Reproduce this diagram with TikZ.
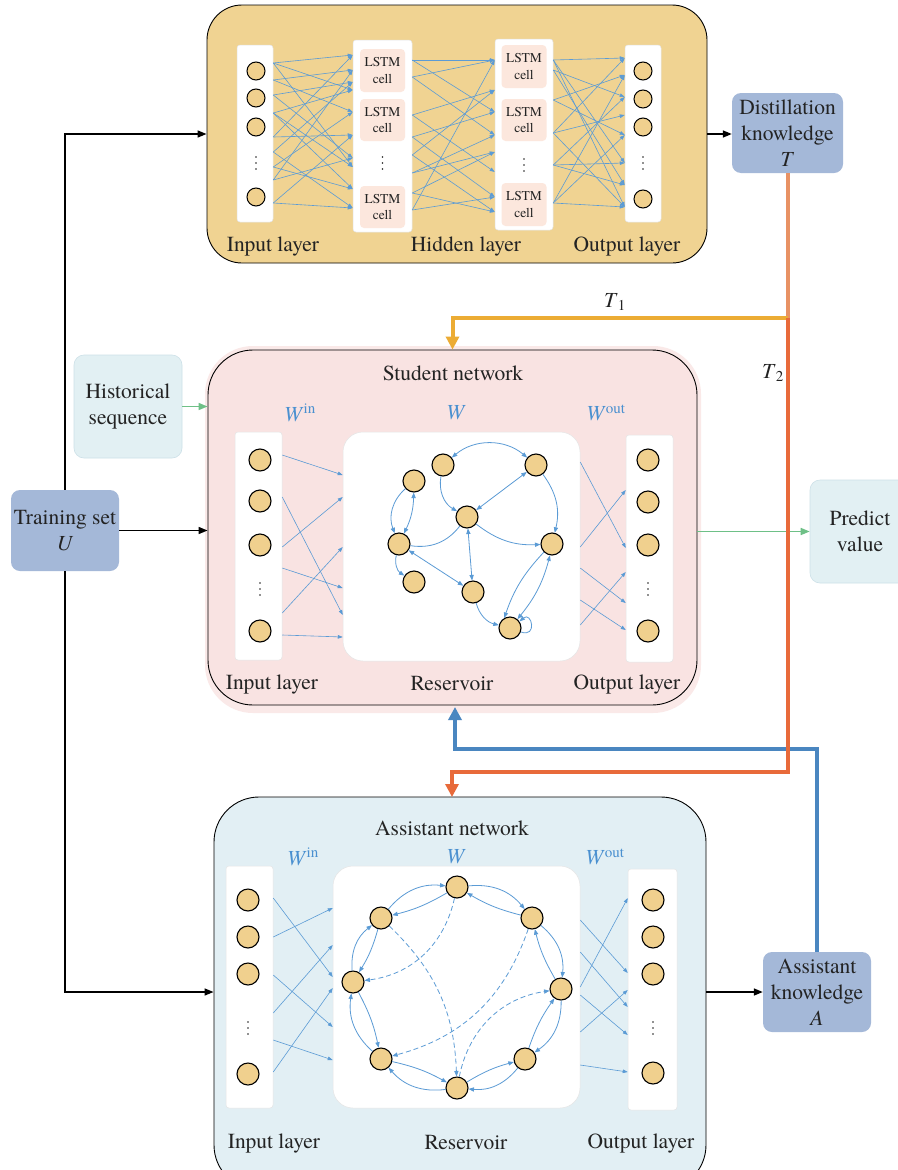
\documentclass[tikz,border=0pt]{standalone}
\usepackage{fontspec}
\setmainfont{texgyretermes}[Extension=.otf, UprightFont=*-regular, ItalicFont=*-italic, BoldFont=*-bold, BoldItalicFont=*-bolditalic]
\usetikzlibrary{arrows.meta,calc}
\definecolor{tanbg}{RGB}{240,211,146}
\definecolor{nodefill}{RGB}{240,208,142}
\definecolor{pinkbg}{RGB}{249,227,226}
\definecolor{bluebg}{RGB}{226,239,244}
\definecolor{cellfill}{RGB}{252,231,221}
\definecolor{kbox}{RGB}{164,184,216}
\definecolor{lbox}{RGB}{226,240,243}
\definecolor{lboxd}{RGB}{205,225,232}
\definecolor{arrblue}{RGB}{91,155,213}
\definecolor{wblue}{RGB}{74,144,208}
\definecolor{greenarr}{RGB}{110,192,135}
\definecolor{org1}{RGB}{232,146,100}
\definecolor{org2}{RGB}{236,172,52}
\definecolor{org3}{RGB}{232,106,58}
\definecolor{kblue}{RGB}{74,134,192}
\definecolor{txt}{RGB}{35,35,35}
\begin{document}
\begin{tikzpicture}[x=1pt,y=1pt, font=\fontsize{21.5}{26}\selectfont, text=txt,
 panel/.style={draw=black, line width=0.9pt, rounded corners=#1, inner sep=0},
 col/.style={fill=white, draw=gray!20, line width=0.5pt, rounded corners=3pt, inner sep=0},
 cellbox/.style={fill=cellfill, rounded corners=4pt, minimum width=45pt, inner sep=0, font=\fontsize{13.5}{16.5}\selectfont, align=center},
 tn/.style={circle, draw=black, line width=1pt, fill=nodefill, minimum size=18pt, inner sep=0},
 rn/.style={circle, draw=black, line width=1.1pt, fill=nodefill, minimum size=22pt, inner sep=0},
 kb/.style={fill=kbox, rounded corners=9pt, align=center, inner sep=0},
 lb/.style={fill=lbox, draw=lboxd, line width=0.6pt, rounded corners=10pt, align=center, inner sep=0},
 wlab/.style={text=wblue, inner sep=0},
 sarr/.style={draw=arrblue, line width=0.6pt, -{Triangle[length=5pt,width=3.6pt]}},
 rarr/.style={draw=arrblue, line width=0.8pt, -{Triangle[length=5.5pt,width=4.2pt]}},
 dsarr/.style={draw=arrblue, line width=0.8pt, {Triangle[length=5.5pt,width=4.2pt]}-{Triangle[length=5.5pt,width=4.2pt]}},
 dash arr/.style={draw=arrblue, line width=0.8pt, dash pattern=on 5pt off 3pt, -{Triangle[length=5.5pt,width=4.2pt]}},
 plainb/.style={draw=arrblue, line width=0.8pt},
 blk/.style={draw=black, line width=1.5pt, -{Triangle[length=9pt,width=7pt]}},
 grn/.style={draw=greenarr, line width=1.6pt, -{Triangle[length=9pt,width=7pt]}},
 thick arr/.style={line width=4pt, -{Triangle[length=13pt,width=13pt]}}]
\newcommand{\vdotsat}[1]{\foreach \dy in {-6,0,6} \fill[txt] ($(#1)+(0,\dy)$) circle (0.9pt);}
\useasboundingbox (0,0) rectangle (897,-1170);
\fill[white] (0,0) rectangle (897,-1170);

% ---------------- top panel (teacher LSTM)
\node[panel=35pt, fill=tanbg, minimum width=500pt, minimum height=258pt] (top) at (457,-134) {};
\node[col, minimum width=36pt, minimum height=177pt] (tin) at (255,-133.5) {};
\node[col, minimum width=59pt, minimum height=192pt] (th1) at (382.5,-136) {};
\node[col, minimum width=58pt, minimum height=191pt] (th2) at (524,-134.5) {};
\node[col, minimum width=36pt, minimum height=177pt] (tout) at (643,-133.5) {};
\foreach \y [count=\i] in {71,98,127,197} \node[tn] (ti\i) at (256,-\y) {};
\foreach \y [count=\i] in {71,99,127,199} \node[tn] (to\i) at (643,-\y) {};
\coordinate (tid) at (256,-163); \vdotsat{tid}
\coordinate (tod) at (643,-163); \vdotsat{tod}
\node[cellbox, minimum height=43pt] (c11) at (382.5,-70.5) {LSTM\\cell};
\node[cellbox, minimum height=42pt] (c12) at (382.5,-120) {LSTM\\cell};
\node[cellbox, minimum height=42pt] (c13) at (382.5,-207) {LSTM\\cell};
\node[cellbox, minimum height=43pt] (c21) at (524,-66.5) {LSTM\\cell};
\node[cellbox, minimum height=42pt] (c22) at (524,-120) {LSTM\\cell};
\node[cellbox, minimum height=43pt] (c23) at (524,-204.5) {LSTM\\cell};
\coordinate (c1d) at (382.5,-163); \vdotsat{c1d}
\coordinate (c2d) at (524,-165); \vdotsat{c2d}
\foreach \a/\b in {63/55, 63/90, 63/167, 80/70, 80/112, 95/82, 95/158, 113/90, 113/189, 137/55, 137/135, 152/82, 152/208, 167/112, 167/189, 180/158, 180/70, 203/135, 203/208, 113/167}
  \draw[sarr] (tin.east |- 0,-\a) -- (th1.west |- 0,-\b);
\foreach \a/\b in {60/60, 60/112, 77/60, 77/135, 115/90, 115/172, 137/112, 137/197, 155/90, 155/212, 173/135, 173/152, 193/152, 193/212, 210/197, 210/60}
  \draw[sarr] (th1.east |- 0,-\a) -- (th2.west |- 0,-\b);
\foreach \a/\b in {60/58, 60/163, 60/207, 70/97, 70/185, 100/75, 100/135, 133/58, 133/115, 133/207, 165/97, 165/163, 165/185, 203/75, 203/135, 203/207}
  \draw[sarr] (th2.east |- 0,-\a) -- (tout.west |- 0,-\b);
\node (tl1) at (273,-246) {Input layer};
\node (tl2) at (466,-246) {Hidden layer};
\node (tl3) at (627,-246) {Output layer};

% ---------------- side boxes
\node[kb, minimum width=111pt, minimum height=80pt] (dk) at (787.5,-133) {Distillation\\knowledge\\\textit{T}};
\node[kb, minimum width=108pt, minimum height=81pt] (ts) at (65,-530.5) {Training set\\\textit{U}};
\node[lb, minimum width=108pt, minimum height=103pt] (hist) at (128,-406.5) {Historical\\sequence};
\node[lb, minimum width=100pt, minimum height=103pt] (pv) at (860,-531.5) {Predict\\value};
\node[kb, minimum width=108pt, minimum height=80pt] (ak) at (817,-992) {Assistant\\knowledge\\\textit{A}};

% ---------------- student panel
\fill[pinkbg!80] (205,-346) [rounded corners=48pt] rectangle (701,-713);
\node[panel=45pt, fill=pinkbg, minimum width=489pt, minimum height=355pt] (stu) at (452.5,-527.5) {};
\node (stt) at (453,-373) {Student network};
\node[wlab] (sw1) at (300,-413) {\textit{W}\textsuperscript{in}};
\node[wlab] (sw2) at (456,-413) {\textit{W}};
\node[wlab] (sw3) at (606,-413) {\textit{W}\textsuperscript{out}};
\node[col, minimum width=47pt, minimum height=228pt] (sin) at (258.5,-546) {};
\node[col, rounded corners=20pt, minimum width=237pt, minimum height=229pt] (sres) at (461.5,-546.5) {};
\node[col, minimum width=47pt, minimum height=227pt] (sout) at (649.5,-548.5) {};
\foreach \y [count=\i] in {460,501,545,631} \node[rn] (si\i) at (260,-\y) {};
\foreach \y [count=\i] in {460,502,545,631} \node[rn] (so\i) at (648,-\y) {};
\coordinate (sid) at (260,-589); \vdotsat{sid}
\coordinate (sod) at (648,-589); \vdotsat{sod}
\node (sl1) at (272,-684) {Input layer};
\node (sl2) at (452,-684) {Reservoir};
\node (sl3) at (627,-684) {Output layer};
\foreach \a/\b in {455/475, 497/615, 547/497, 568/588, 613/547, 635/637}
  \draw[sarr] (sin.east |- 0,-\a) -- (sres.west |- 0,-\b);
\foreach \a/\b in {462/548, 547/490, 568/603, 600/630, 625/572}
  \draw[sarr] (sres.east |- 0,-\a) -- (sout.west |- 0,-\b);
% reservoir
\node[rn] (sA) at (443,-465) {};
\node[rn] (sB) at (536,-465) {};
\node[rn] (sC) at (414,-481) {};
\node[rn] (sD) at (467,-517) {};
\node[rn] (sE) at (399,-544) {};
\node[rn] (sF) at (552,-544) {};
\node[rn] (sG) at (414,-582) {};
\node[rn] (sH) at (473,-592) {};
\node[rn] (sI) at (510,-628) {};
\draw[dsarr] (sA) to[bend left=40] (sB);
\draw[rarr] (sA) to[bend right=35] (sD);
\draw[dsarr] (sB) -- (sD);
\draw[rarr] (sB) to[bend left=25] (sF);
\draw[rarr] (sC) to[bend right=35] (sE);
\draw[dsarr] (sC) to[bend left=12] (sE);
\draw[plainb] (sE) to[bend right=30] (sD);
\draw[rarr] (sD) to[bend right=20] (sF);
\draw[dsarr] (sD) -- (sH);
\draw[dsarr] (sE) -- (sH);
\draw[rarr] (sE) to[bend right=35] (sG);
\draw[rarr] (sH) to[bend right=30] (sI);
\draw[rarr] (sF.225) to[bend right=12] (sI.120);
\draw[dsarr] (sI.50) to[bend right=12] (sF.260);
\draw[rarr] (sI.-20) .. controls +(-20:18) and +(40:16) .. (sI.35);

% ---------------- assistant panel
\node[panel=45pt, fill=bluebg, minimum width=492pt, minimum height=393pt] (asst) at (460,-993.5) {};
\node (att) at (452,-828) {Assistant network};
\node[wlab] (aw1) at (303,-857) {\textit{W}\textsuperscript{in}};
\node[wlab] (aw2) at (456,-857) {\textit{W}};
\node[wlab] (aw3) at (605,-857) {\textit{W}\textsuperscript{out}};
\node[col, minimum width=47pt, minimum height=242pt] (ain) at (249.5,-987) {};
\node[col, rounded corners=20pt, minimum width=247pt, minimum height=242pt] (ares) at (456.5,-987) {};
\node[col, minimum width=49pt, minimum height=241pt] (aout) at (652.5,-989.5) {};
\foreach \y [count=\i] in {900,937,974,1074} \node[rn] (ai\i) at (248,-\y) {};
\foreach \y [count=\i] in {900,937,974,1073} \node[rn] (ao\i) at (653,-\y) {};
\coordinate (aid) at (248,-1028); \vdotsat{aid}
\coordinate (aod) at (653,-1028); \vdotsat{aod}
\node (al1) at (274,-1143) {Input layer};
\node (al2) at (466,-1143) {Reservoir};
\node (al3) at (641,-1143) {Output layer};
\foreach \a/\b in {898/977, 937/908, 975/1027, 1013/945, 1040/1060, 1072/988}
  \draw[sarr] (ain.east |- 0,-\a) -- (ares.west |- 0,-\b);
\foreach \a/\b in {920/973, 952/1007, 987/898, 995/1035, 1032/990, 1065/1072}
  \draw[sarr] (ares.east |- 0,-\a) -- (aout.west |- 0,-\b);
\node[rn] (a1) at (457,-887) {};
\node[rn] (a2) at (381,-918) {};
\node[rn] (a3) at (532,-918) {};
\node[rn] (a4) at (353,-982) {};
\node[rn] (a5) at (561,-989) {};
\node[rn] (a6) at (381,-1059) {};
\node[rn] (a7) at (525,-1059) {};
\node[rn] (a8) at (457,-1088) {};
\foreach \p/\q in {a2/a1, a1/a3, a3/a5, a5/a7, a7/a8, a8/a6, a6/a4, a4/a2} {
  \draw[rarr] (\p) to[bend left=28] (\q);
  \draw[rarr] (\q) to[bend left=8] (\p);
}
\draw[dash arr] (a1) to[bend left=35] (a4);
\draw[dash arr] (a2) to[bend left=22] (a8);
\draw[dash arr] (a3) to[bend left=28] (a6);
\draw[dash arr] (a8) to[bend left=35] (a5);

% ---------------- connectors
\draw[blk] (ts.north) |- (top.west);
\draw[blk] (ts.east) -- (ts.east -| stu.west);
\draw[blk] (ts.south) |- (asst.west |- ak.west);
\draw[grn] (hist.east) -- (hist.east -| stu.west);
\draw[blk] (top.east) -- (top.east -| dk.west);
\draw[grn] (stu.east |- pv.west) -- (pv.west);
\draw[blk] (asst.east |- ak.west) -- (ak.west);
\coordinate (j) at (dk.south |- 0,-318);
\coordinate (s2) at (455,-707);
\coordinate (a2t) at (452,-797);
\draw[kblue, thick arr] (ak.north) -- (ak.north |- 0,-749) -| (s2);
\draw[org1, line width=4pt] (dk.south) -- (j);
\draw[org2, thick arr] (j) -| (stu.north);
\draw[org3, thick arr] (j) -- (j |- 0,-772) -| (a2t);
\node (t1) at (615,-302) {\textit{T}\textsubscript{1}};
\node (t2) at (773,-373) {\textit{T}\textsubscript{2}};
\end{tikzpicture}
\end{document}
